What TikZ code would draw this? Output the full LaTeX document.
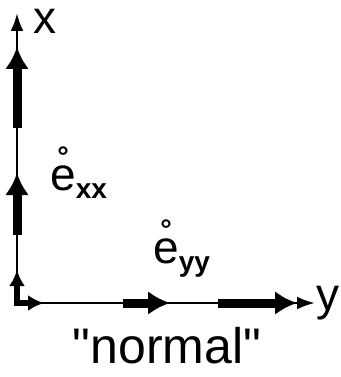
\documentclass[tikz,border=0pt]{standalone}
\usepackage{fontspec}
\setmainfont{Liberation Sans}[Ligatures=TeXOff]
\usetikzlibrary{arrows.meta}
\tikzset{
  axis/.style={line width=2.8pt, -{Latex[length=18pt,width=13pt]}},
  vec/.style={line width=9pt, -{Latex[length=22pt,width=24pt]}},
  smallvec/.style={line width=5.5pt, -{Latex[length=16pt,width=16pt]}},
  label/.style={inner sep=0pt, font=\fontsize{46}{46}\selectfont}
}
\begin{document}
\begin{tikzpicture}[x=1pt,y=-1pt]
\useasboundingbox (0,0) rectangle (340,377);
\coordinate (origin) at (17,303);
\coordinate (xend) at (17,13);
\coordinate (yend) at (315,303);

\coordinate (v0a) at (17,306);  \coordinate (v0b) at (17,270);
\coordinate (v1a) at (17,235);  \coordinate (v1b) at (17,173);
\coordinate (v2a) at (17,128);  \coordinate (v2b) at (17,47);
\coordinate (h0a) at (14,303);  \coordinate (h0b) at (44,303);
\coordinate (h1a) at (123,303); \coordinate (h1b) at (170,303);
\coordinate (h2a) at (218,303); \coordinate (h2b) at (297,303);

\node[label, anchor=base] (xlabel) at (45,34) {x};
\node[label, anchor=base west] (ylabel) at (316,310) {y};
\node[label, anchor=base, font=\fontsize{50}{50}\selectfont] (normal) at (167,363) {"normal"};
\node[label, anchor=base west] (exx) at (50,190) {\r{e}\raisebox{-8pt}{\fontsize{28}{28}\selectfont\bfseries xx}};
\node[label, anchor=base west] (eyy) at (153,263) {\r{e}\raisebox{-8pt}{\fontsize{28}{28}\selectfont\bfseries yy}};

\draw[axis] (origin) -- (xend);
\draw[axis] (origin) -- (yend);
\draw[smallvec] (v0a) -- (v0b);
\draw[vec] (v1a) -- (v1b);
\draw[vec] (v2a) -- (v2b);
\draw[smallvec] (h0a) -- (h0b);
\draw[vec] (h1a) -- (h1b);
\draw[vec] (h2a) -- (h2b);
\end{tikzpicture}
\end{document}
